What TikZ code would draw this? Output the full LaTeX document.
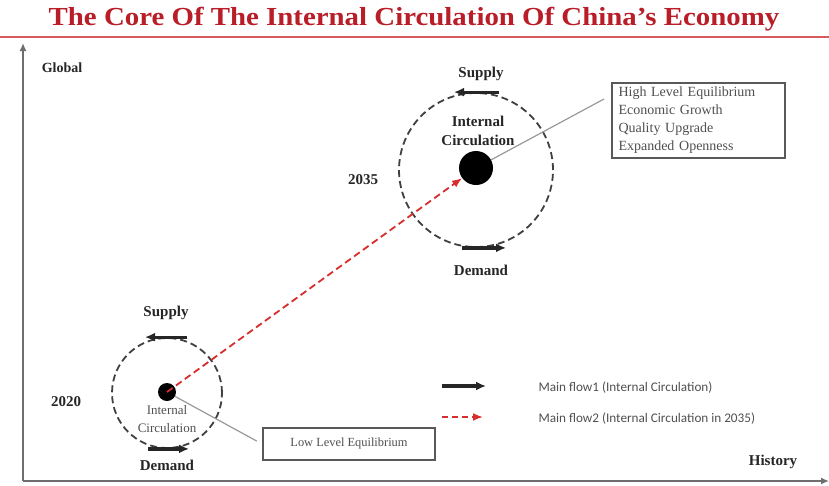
\documentclass[tikz,border=0pt]{standalone}
\usepackage{fontspec}
\setmainfont{Liberation Serif}
\newfontfamily\legfont{Carlito}
\usetikzlibrary{arrows.meta}
\definecolor{titlered}{RGB}{185,30,40}
\definecolor{linered}{RGB}{215,90,95}
\definecolor{flowred}{RGB}{215,45,45}
\definecolor{axisgray}{RGB}{110,110,110}
\definecolor{txtgray}{RGB}{80,80,80}
\tikzset{
  axisline/.style={draw=axisgray, line width=2.6},
  dashcirc/.style={circle, draw=black!75, line width=1.8, dash pattern=on 7pt off 4pt, inner sep=0},
  bigdotstyle/.style={circle, fill=black, inner sep=0},
  flowarrow/.style={draw=black!85, line width=3.2, -{Latex[length=10pt,width=9pt]}},
  reddash/.style={draw=flowred, line width=1.8, dash pattern=on 7pt off 4pt, -{Latex[length=10pt,width=8pt]}},
  linkline/.style={draw=black!40, line width=1.2},
  lbl/.style={font=\fontsize{15}{17}\selectfont\bfseries, text=black!85},
  boxstyle/.style={draw=black!65, line width=1.8, inner sep=0},
  legtext/.style={font=\legfont\fontsize{13.2}{15}\selectfont, text=txtgray, anchor=west}
}
\begin{document}
\begin{tikzpicture}[x=1pt,y=-1pt]
\useasboundingbox (0,0) rectangle (829,485);
\fill[white] (0,0) rectangle (829,485);
% title
\node[font=\fontsize{26}{30}\selectfont\bfseries, text=titlered, anchor=base, xscale=1.11] (title) at (414,25) {The Core Of The Internal Circulation Of China's Economy};
\coordinate (rl) at (0,37);
\coordinate (rr) at (829,37);
\draw[linered, line width=1.8] (rl) -- (rr);
% axes
\coordinate (O) at (23,481);
\coordinate (ytop) at (23,43);
\coordinate (xend) at (829,481);
\draw[axisline, -{Latex[length=8pt,width=7pt]}] (O) -- (ytop);
\draw[axisline, -{Latex[length=8pt,width=7pt]}] (O) -- (xend);
\node[lbl, font=\fontsize{14}{16}\selectfont\bfseries] (global) at (62,68) {Global};
\node[lbl] (history) at (773,462) {History};
% big circle 2035
\node[dashcirc, minimum size=154] (bigc) at (476,170) {};
\node[bigdotstyle, minimum size=34] (bigdot) at (476,168) {};
\draw[flowarrow] ([xshift=23pt]bigc.north) -- ([xshift=-22pt]bigc.north);
\draw[flowarrow] ([xshift=-14pt]bigc.south) -- ([xshift=30pt]bigc.south);
\node[lbl] (sup2) at (481,74) {Supply};
\node[lbl] (dem2) at (481,270) {Demand};
\node[lbl, align=center, font=\fontsize{15}{19}\selectfont\bfseries] (ic2) at (478,131) {Internal\\Circulation};
\node[lbl] (y2035) at (363,180) {2035};
% small circle 2020
\node[dashcirc, minimum size=110] (smc) at (167,393) {};
\node[bigdotstyle, minimum size=18] (smdot) at (167,392) {};
\draw[flowarrow] ([xshift=20pt]smc.north) -- ([xshift=-22pt]smc.north);
\draw[flowarrow] ([xshift=-19pt]smc.south) -- ([xshift=22pt]smc.south);
\node[lbl] (sup1) at (166,313) {Supply};
\node[lbl] (dem1) at (167,465) {Demand};
\node[align=center, font=\fontsize{13}{18}\selectfont, text=txtgray] (ic1) at (167,419) {Internal\\Circulation};
\node[lbl] (y2020) at (66,402) {2020};
% red dashed flow
\draw[reddash] (smdot.center) -- (bigdot);
% info boxes
\node[boxstyle, minimum width=173, minimum height=75, text width=160, align=left, font=\fontsize{14}{18}\selectfont, text=txtgray] (hbox) at (698.5,120.5)
  {High Level Equilibrium\\Economic Growth\\Quality Upgrade\\Expanded Openness};
\coordinate (hend) at (604,99);
\draw[linkline] (bigdot) -- (hend);
\node[boxstyle, minimum width=172, minimum height=32, font=\fontsize{12.4}{14}\selectfont, text=txtgray] (lbox) at (349,444) {Low Level Equilibrium};
\draw[linkline, shorten >=6pt] (smdot) -- (lbox.west);
% legend
\coordinate (l1a) at (442,386);
\coordinate (l1b) at (486,386);
\coordinate (l2a) at (442,417);
\coordinate (l2b) at (483,417);
\draw[flowarrow] (l1a) -- (l1b);
\draw[reddash, line width=1.8, dash pattern=on 6pt off 4pt] (l2a) -- (l2b);
\node[legtext] (leg1) at (535,388) {Main flow1 (Internal Circulation)};
\node[legtext] (leg2) at (535,419) {Main flow2 (Internal Circulation in 2035)};
\end{tikzpicture}
\end{document}
